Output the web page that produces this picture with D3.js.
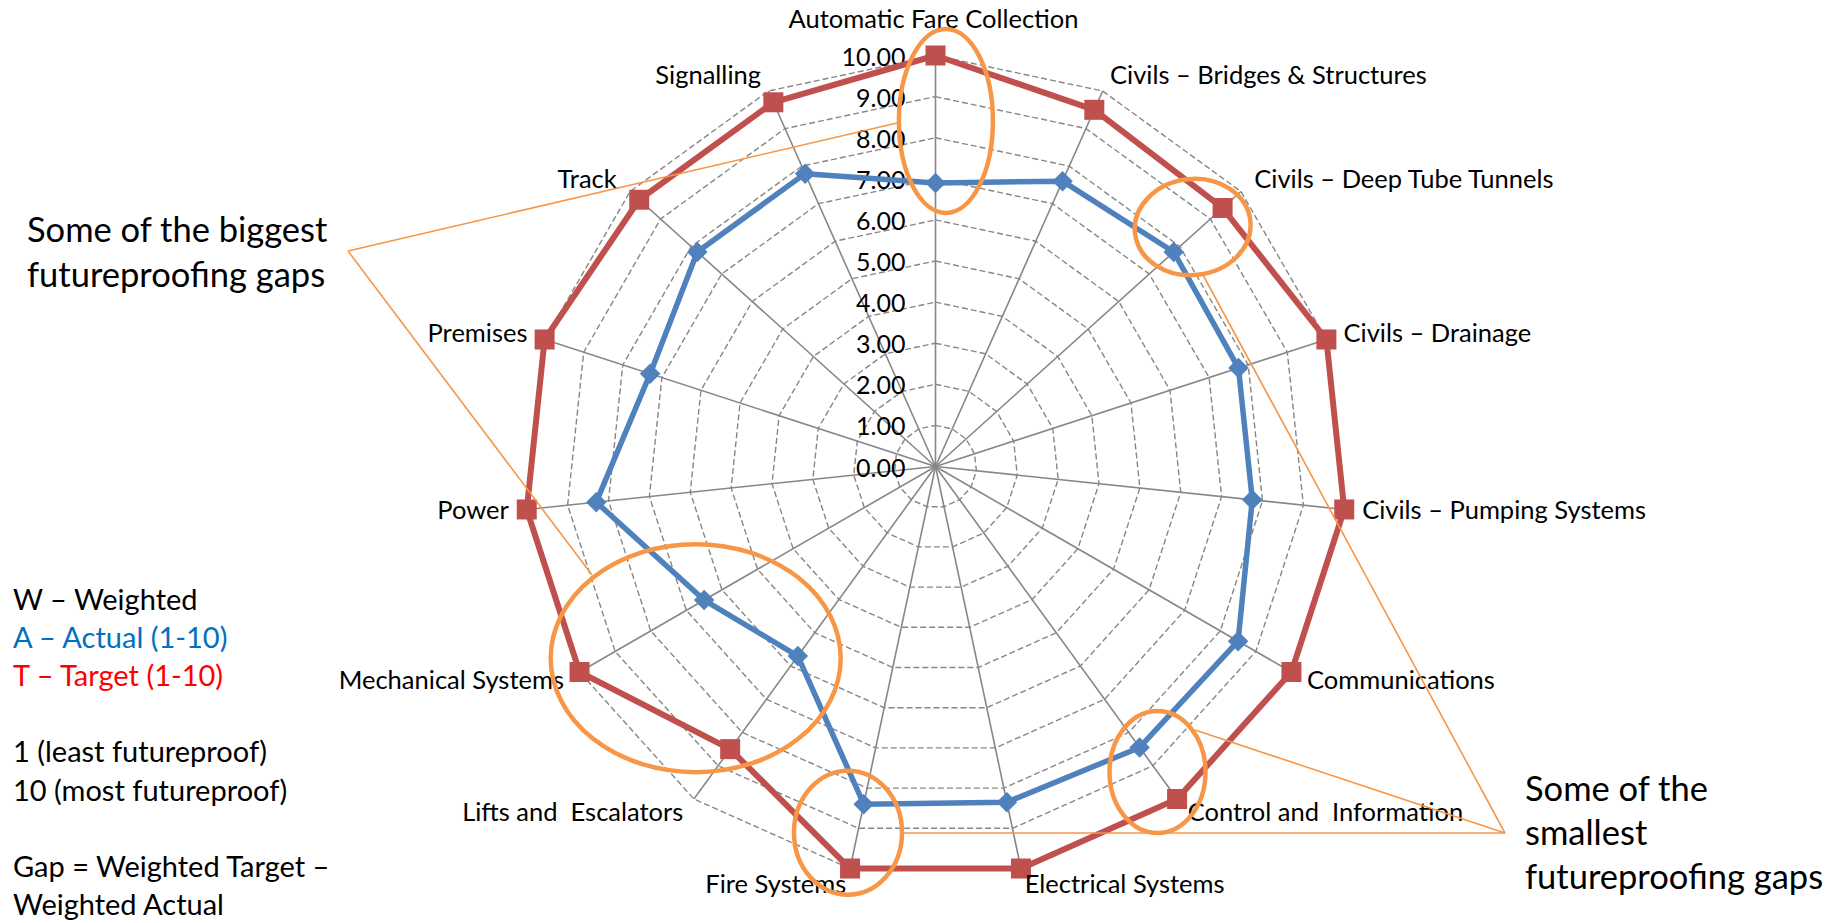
<!DOCTYPE html>
<html>
<head>
<meta charset="utf-8">
<script src="https://cdn.jsdelivr.net/npm/d3@7"></script>
<style>
  html, body { margin: 0; padding: 0; background: #ffffff; }
  svg { display: block; }
  text { font-family: Lato, "Open Sans", sans-serif; fill: #000; }
</style>
</head>
<body>
<svg id="chart" width="1835" height="923"></svg>
<script>
// ---------- data ----------
const categories = [
  "Automatic Fare Collection",
  "Civils \u2013 Bridges & Structures",
  "Civils \u2013 Deep Tube Tunnels",
  "Civils \u2013 Drainage",
  "Civils \u2013 Pumping Systems",
  "Communications",
  "Control and  Information",
  "Electrical Systems",
  "Fire Systems",
  "Lifts and  Escalators",
  "Mechanical Systems",
  "Power",
  "Premises",
  "Track",
  "Signalling"
];
const actual = [6.9, 7.6, 7.8, 7.75, 7.75, 8.5, 8.45, 8.35, 8.4, 5.7, 6.5, 8.3, 7.3, 7.8, 7.8];
const target = [10, 9.5, 9.4, 10, 10, 10, 10, 10, 10, 8.5, 10, 10, 10, 9.7, 9.7];
const tickValues = [0, 1, 2, 3, 4, 5, 6, 7, 8, 9, 10];

const legendLines = [
  {text: "W \u2013 Weighted", color: "#000000"},
  {text: "A \u2013 Actual (1-10)", color: "#0070C0"},
  {text: "T \u2013 Target (1-10)", color: "#FF0000"},
  {text: "", color: "#000000"},
  {text: "1 (least futureproof)", color: "#000000"},
  {text: "10 (most futureproof)", color: "#000000"},
  {text: "", color: "#000000"},
  {text: "Gap = Weighted Target \u2013", color: "#000000"},
  {text: "Weighted Actual", color: "#000000"}
];
const bigGapText = ["Some of the biggest", "futureproofing gaps"];
const smallGapText = ["Some of the", "smallest", "futureproofing gaps"];
// highlighted spots: (fractional category index, value) of ellipse centres
const bigGapSpots = [
  {idx: 0.072, val: 8.41, rx: 47, ry: 92, rot: 0},
  {idx: 9.64, val: 7.47, rx: 145, ry: 114, rot: 0}
];
const smallGapSpots = [
  {idx: 1.96, val: 8.55, rx: 58, ry: 48, rot: -6},
  {idx: 6.0, val: 9.19, rx: 48, ry: 61, rot: 0},
  {idx: 8.06, val: 9.16, rx: 54, ry: 62, rot: 0}
];

// ---------- layout ----------
const W = 1835, H = 923;
const cx = 935.5, cy = 466.5, R = 411;
const n = categories.length;
const svg = d3.select("#chart");

const rScale = d3.scaleLinear().domain([0, 10]).range([0, R]);
const aScale = d3.scaleLinear().domain([0, n]).range([0, 2 * Math.PI]);

function pt(idx, val) {
  const a = aScale(idx), r = rScale(val);
  return [cx + r * Math.sin(a), cy - r * Math.cos(a)];
}

const g = svg.append("g");

// grid polygons (dashed)
const gridColor = "#878787";
tickValues.filter(v => v > 0).forEach(v => {
  const pts = d3.range(n).map(i => pt(i, v));
  g.append("path")
    .attr("d", d3.line()(pts) + "Z")
    .attr("fill", "none")
    .attr("stroke", gridColor)
    .attr("stroke-width", 1.4)
    .attr("stroke-dasharray", "6,3");
});

// spokes
d3.range(n).forEach(i => {
  const [x, y] = pt(i, 10);
  g.append("line")
    .attr("x1", cx).attr("y1", cy).attr("x2", x).attr("y2", y)
    .attr("stroke", gridColor).attr("stroke-width", 1.6);
});

// tick labels
g.selectAll(".tick").data(tickValues).enter().append("text")
  .attr("x", cx - 30)
  .attr("y", d => cy - rScale(d) + 10)
  .attr("text-anchor", "end")
  .attr("font-size", 25)
  .text(d => d3.format(".2f")(d));

// series
const radial = d3.lineRadial()
  .angle((d, i) => aScale(i))
  .radius(d => rScale(d))
  .curve(d3.curveLinearClosed);

const series = g.append("g").attr("transform", `translate(${cx},${cy})`);

series.append("path").datum(target)
  .attr("d", radial).attr("fill", "none")
  .attr("stroke", "#C0504D").attr("stroke-width", 6).attr("stroke-linejoin", "round");
series.append("path").datum(actual)
  .attr("d", radial).attr("fill", "none")
  .attr("stroke", "#4F81BD").attr("stroke-width", 5.5).attr("stroke-linejoin", "round");

// markers
const sq = d3.symbol().type(d3.symbolSquare).size(20 * 20)();
const dm = d3.symbol().type(d3.symbolSquare).size(14.5 * 14.5)();
g.selectAll(".tm").data(target).enter().append("path")
  .attr("d", sq)
  .attr("transform", (d, i) => { const [x, y] = pt(i, d); return `translate(${x},${y})`; })
  .attr("fill", "#C0504D");
g.selectAll(".am").data(actual).enter().append("path")
  .attr("d", dm)
  .attr("transform", (d, i) => { const [x, y] = pt(i, d); return `translate(${x},${y}) rotate(45)`; })
  .attr("fill", "#4F81BD");

// category labels
categories.forEach((c, i) => {
  const a = aScale(i), s = Math.sin(a), co = Math.cos(a);
  const [px, py] = pt(i, 10);
  let anchor = "middle", x = px - 2, y = py - 28;
  if (s > 0.01) { anchor = "start"; x = px + 18 * s; y = py - 17 * co + 8; }
  else if (s < -0.01) { anchor = "end"; x = px + 18 * s; y = py - 17 * co + 8; }
  g.append("text")
    .attr("x", x).attr("y", y)
    .attr("text-anchor", anchor)
    .attr("font-size", 25.5)
    .style("white-space", "pre")
    .text(c);
});

// annotations
const orange = "#F79646";
const ann = svg.append("g");
function ellipse(s) {
  const [x, y] = pt(s.idx, s.val);
  ann.append("ellipse")
    .attr("cx", 0).attr("cy", 0).attr("rx", s.rx).attr("ry", s.ry)
    .attr("transform", `translate(${x},${y}) rotate(${s.rot})`)
    .attr("fill", "none").attr("stroke", orange).attr("stroke-width", 4.5);
}
bigGapSpots.forEach(ellipse);
smallGapSpots.forEach(ellipse);

// callout connectors
const bigApex = [348, 251];
const smallApex = [1505, 833];
function conn(a, b) {
  ann.append("line").attr("x1", a[0]).attr("y1", a[1]).attr("x2", b[0]).attr("y2", b[1])
    .attr("stroke", orange).attr("stroke-width", 1.6);
}
conn(bigApex, [897, 123]);
conn(bigApex, [592, 575]);
conn(smallApex, [1203, 275]);
conn(smallApex, [1195, 730]);
conn(smallApex, [902, 833]);

// callout texts
bigGapText.forEach((t, i) => {
  ann.append("text").attr("x", 27).attr("y", 242 + i * 45)
    .attr("font-size", 34.5).text(t);
});
smallGapText.forEach((t, i) => {
  ann.append("text").attr("x", 1525).attr("y", 801 + i * 44)
    .attr("font-size", 34.5).text(t);
});

// legend-like notes
legendLines.forEach((l, i) => {
  if (!l.text) return;
  ann.append("text").attr("x", 13).attr("y", 610 + i * 38.1)
    .attr("font-size", 29)
    .style("fill", l.color)
    .text(l.text);
});
</script>
</body>
</html>
